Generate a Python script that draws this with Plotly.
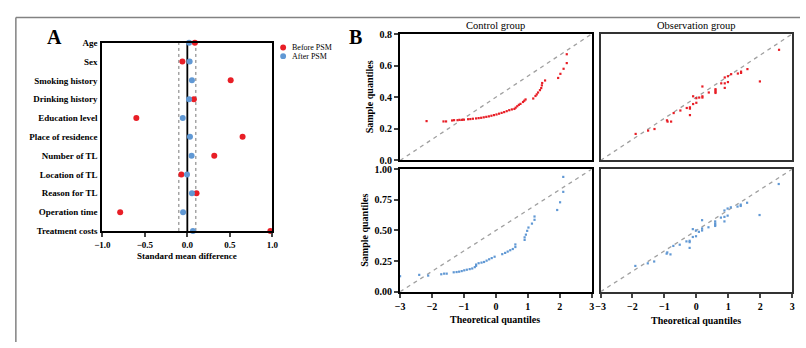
import plotly.graph_objects as go

W, H = 806, 348
def px(x): return x / W
def py(y): return 1 - y / H

# ---------------- Data ----------------
variables = ["Age", "Sex", "Smoking history", "Drinking history", "Education level",
             "Place of residence", "Number of TL", "Location of TL", "Reason for TL",
             "Operation time", "Treatment costs"]
smd_before = [0.089, -0.058, 0.51, 0.077, -0.60, 0.65, 0.317, -0.07, 0.108, -0.79, 0.977]
smd_after = [0.02, 0.027, 0.054, 0.02, -0.054, 0.031, 0.05, -0.004, 0.054, -0.05, 0.066]
smd_ticks = [-1.0, -0.5, 0.0, 0.5, 1.0]

ctrl_before_x = [-2.17, -1.64, -1.56, -1.37, -1.31, -1.20, -1.14, -1.06, -1.00, -0.87, -0.80, -0.72,
                 -0.62, -0.54, -0.46, -0.38, -0.30, -0.22, -0.14, -0.06, 0.02, 0.10, 0.18, 0.26,
                 0.34, 0.42, 0.50, 0.58, 0.62, 0.67, 0.72, 0.77, 0.85, 0.89, 0.93, 1.17, 1.24,
                 1.28, 1.32, 1.38, 1.42, 1.44, 1.45, 1.54, 1.95, 2.02, 2.12, 2.22, 2.22]
ctrl_before_y = [0.249, 0.247, 0.247, 0.253, 0.255, 0.255, 0.257, 0.257, 0.258, 0.261, 0.262, 0.264,
                 0.266, 0.268, 0.270, 0.273, 0.276, 0.279, 0.283, 0.287, 0.291, 0.296, 0.301, 0.306,
                 0.312, 0.318, 0.323, 0.326, 0.334, 0.343, 0.352, 0.358, 0.370, 0.378, 0.386, 0.392,
                 0.408, 0.418, 0.430, 0.445, 0.458, 0.475, 0.490, 0.506, 0.522, 0.548, 0.580, 0.616,
                 0.672]

obs_before_x = [-1.90, -1.51, -1.31, -0.92, -0.90, -0.79, -0.71, -0.50, -0.30, -0.20, -0.20, -0.20,
                -0.10, 0.00, -0.10, 0.00, 0.09, 0.19, 0.19, 0.19, 0.39, 0.60, 0.60, 0.60, 0.60,
                0.78, 0.89, 0.89, 0.99, 0.89, 0.99, 1.09, 1.30, 1.40, 1.40, 1.60, 1.99, 2.59]
obs_before_y = [0.168, 0.189, 0.199, 0.254, 0.246, 0.246, 0.300, 0.316, 0.332, 0.336, 0.328, 0.287,
                0.357, 0.365, 0.406, 0.394, 0.398, 0.406, 0.398, 0.468, 0.430, 0.451, 0.443, 0.435,
                0.427, 0.488, 0.488, 0.459, 0.496, 0.525, 0.533, 0.546, 0.550, 0.562, 0.554, 0.578,
                0.500, 0.700]

ctrl_after_x = [-3.00, -2.40, -2.12, -1.71, -1.62, -1.54, -1.32, -1.23, -1.15, -1.07, -0.99, -0.91,
                -0.82, -0.74, -0.66, -0.62, -0.62, -0.54, -0.45, -0.37, -0.29, -0.21, -0.13, -0.04,
                0.20, 0.29, 0.37, 0.45, 0.53, 0.61, 0.61, 0.90, 0.90, 0.94, 0.98, 1.02, 1.13, 1.21,
                1.21, 1.92, 2.01, 2.11, 2.11]
ctrl_after_y = [0.127, 0.138, 0.132, 0.143, 0.148, 0.148, 0.159, 0.161, 0.164, 0.169, 0.175, 0.180,
                0.185, 0.190, 0.201, 0.212, 0.222, 0.233, 0.238, 0.243, 0.254, 0.265, 0.275, 0.286,
                0.307, 0.317, 0.328, 0.339, 0.349, 0.365, 0.386, 0.423, 0.444, 0.466, 0.497, 0.524,
                0.556, 0.587, 0.614, 0.667, 0.730, 0.815, 0.937]

obs_after_x = [-1.91, -1.52, -1.32, -0.93, -0.91, -0.81, -0.72, -0.52, -0.31, -0.21, -0.21, -0.21,
               -0.11, -0.01, -0.11, -0.01, 0.08, 0.18, 0.18, 0.18, 0.38, 0.59, 0.59, 0.59, 0.59,
               0.77, 0.88, 0.88, 0.98, 0.88, 0.98, 1.08, 1.29, 1.39, 1.39, 1.59, 1.98, 2.58]
obs_after_y = [0.211, 0.232, 0.247, 0.311, 0.321, 0.305, 0.374, 0.384, 0.411, 0.416, 0.405, 0.358,
               0.447, 0.453, 0.511, 0.500, 0.489, 0.500, 0.516, 0.584, 0.526, 0.574, 0.558, 0.547,
               0.537, 0.605, 0.611, 0.574, 0.621, 0.663, 0.679, 0.689, 0.695, 0.711, 0.700, 0.726,
               0.626, 0.879]

qq_x_ticks = [-3, -2, -1, 0, 1, 2, 3]
qq_top_ticks = [0.0, 0.2, 0.4, 0.6, 0.8]
qq_bot_ticks = [0.0, 0.25, 0.5, 0.75, 1.0]
qq_top_max, qq_bot_max = 0.8, 1.0

RED = "rgb(232,30,38)"
BLUE = "rgb(96,152,212)"
FONT = "Liberation Serif"

fig = go.Figure()

# ---------------- Panel A ----------------
fig.add_trace(go.Scatter(x=smd_before, y=variables, mode="markers", name="Before PSM",
                         marker=dict(color=RED, size=6), cliponaxis=False,
                         xaxis="x", yaxis="y", showlegend=False))
fig.add_trace(go.Scatter(x=smd_after, y=variables, mode="markers", name="After PSM",
                         marker=dict(color=BLUE, size=6), cliponaxis=False,
                         xaxis="x", yaxis="y", showlegend=False))

# ---------------- Panel B ----------------
def qq(xs, ys, color, ax, ymax):
    fig.add_trace(go.Scatter(x=[-3, 3], y=[0, ymax], mode="lines",
                             line=dict(color="rgb(160,160,160)", width=1.3, dash="4px,4px"),
                             xaxis="x" + ax, yaxis="y" + ax, showlegend=False, hoverinfo="skip"))
    fig.add_trace(go.Scatter(x=xs, y=ys, mode="markers",
                             marker=dict(color=color, size=2.2, symbol="square"),
                             cliponaxis=False,
                             xaxis="x" + ax, yaxis="y" + ax, showlegend=False))

qq(ctrl_before_x, ctrl_before_y, RED, "2", qq_top_max)
qq(obs_before_x, obs_before_y, RED, "3", qq_top_max)
qq(ctrl_after_x, ctrl_after_y, BLUE, "4", qq_bot_max)
qq(obs_after_x, obs_after_y, BLUE, "5", qq_bot_max)

bold9 = dict(family=FONT, size=9, color="black", weight="bold")
bold10 = dict(family=FONT, size=10, color="black", weight="bold")

frame = dict(showline=True, linecolor="black", linewidth=2, mirror=True,
             showgrid=False, zeroline=False)
frame_r = dict(showline=True, linecolor="rgb(50,50,50)", linewidth=2, mirror=True,
               showgrid=False, zeroline=False)

top_dom = [py(160), py(29)]
bot_dom = [py(296), py(169)]
left_dom = [px(399), px(594)]
right_dom = [px(603), px(798)]

fig.update_layout(
    width=W, height=H, margin=dict(l=0, r=0, t=0, b=0),
    paper_bgcolor="white", plot_bgcolor="white",
    font=dict(family=FONT, color="black"),
    showlegend=False,
    xaxis=dict(domain=[px(96), px(269)], range=[-1, 1], tickvals=smd_ticks,
               tickformat=".1f", ticks="outside", ticklen=4, tickwidth=1.5,
               tickfont=bold9, anchor="y", **frame),
    yaxis=dict(domain=[py(233), py(38)], type="category", categoryorder="array",
               categoryarray=variables, range=[len(variables) - 1, 0],
               ticks="", ticklabelstandoff=1, tickfont=bold9, anchor="x", **frame),
    xaxis2=dict(domain=left_dom, range=[-3, 3], showticklabels=False, ticks="",
                anchor="y2", **frame),
    yaxis2=dict(domain=top_dom, range=[0, qq_top_max], tickvals=qq_top_ticks, tickformat=".1f",
                ticks="outside", ticklen=4, tickwidth=1.5, tickfont=bold10, anchor="x2", **frame),
    xaxis3=dict(domain=right_dom, range=[-3, 3], showticklabels=False, ticks="",
                anchor="y3", **frame_r),
    yaxis3=dict(domain=top_dom, range=[0, qq_top_max], showticklabels=False, ticks="",
                anchor="x3", **frame_r),
    xaxis4=dict(domain=left_dom, range=[-3, 3], tickvals=qq_x_ticks, ticks="outside",
                ticklen=4, tickwidth=1.5, tickfont=bold10, anchor="y4", **frame),
    yaxis4=dict(domain=bot_dom, range=[0, qq_bot_max], tickvals=qq_bot_ticks, tickformat=".2f",
                ticks="outside", ticklen=4, tickwidth=1.5, tickfont=bold10, anchor="x4", **frame),
    xaxis5=dict(domain=right_dom, range=[-3, 3], tickvals=qq_x_ticks, ticks="outside",
                ticklen=4, tickwidth=1.5, tickfont=bold10, anchor="y5", **frame_r),
    yaxis5=dict(domain=bot_dom, range=[0, qq_bot_max], showticklabels=False, ticks="",
                anchor="x5", **frame_r),
)

shapes = [
    # outer frame
    dict(type="line", xref="paper", yref="paper", x0=px(8), x1=1, y0=py(12), y1=py(12),
         line=dict(color="rgb(130,130,130)", width=1.5)),
    dict(type="line", xref="paper", yref="paper", x0=px(8), x1=px(8), y0=0, y1=py(12),
         line=dict(color="rgb(130,130,130)", width=1.5)),
    # reference lines in panel A
    dict(type="line", xref="x", yref="y domain", x0=0, x1=0, y0=0, y1=1,
         line=dict(color="black", width=1.8), layer="below"),
    dict(type="line", xref="x", yref="y domain", x0=-0.1, x1=-0.1, y0=0, y1=1,
         line=dict(color="rgb(120,120,120)", width=1, dash="dot"), layer="below"),
    dict(type="line", xref="x", yref="y domain", x0=0.1, x1=0.1, y0=0, y1=1,
         line=dict(color="rgb(120,120,120)", width=1, dash="dot"), layer="below"),
    # legend markers
    dict(type="circle", xref="paper", yref="paper", x0=px(277), x1=px(283),
         y0=py(46), y1=py(40), fillcolor=RED, line=dict(width=0)),
    dict(type="circle", xref="paper", yref="paper", x0=px(277), x1=px(283),
         y0=py(55), y1=py(49), fillcolor=BLUE, line=dict(width=0)),
]
fig.update_layout(shapes=shapes)

ann = [
    dict(text="A", x=px(47), y=py(32), font=dict(family=FONT, size=20, weight="bold")),
    dict(text="B", x=px(354), y=py(32), font=dict(family=FONT, size=20, weight="bold")),
    dict(text="Before PSM", x=px(287), y=py(43), xanchor="left",
         font=dict(family=FONT, size=8)),
    dict(text="After PSM", x=px(287), y=py(52), xanchor="left",
         font=dict(family=FONT, size=8)),
    dict(text="Standard mean difference", x=px(182.5), y=py(259), font=bold9),
    dict(text="Control group", x=px(496), y=py(20), font=dict(family=FONT, size=10.5)),
    dict(text="Observation group", x=px(700), y=py(20), font=dict(family=FONT, size=10.5)),
    dict(text="Sample quantiles", x=px(368), y=py(94), textangle=-90, font=bold10),
    dict(text="Sample quantiles", x=px(362), y=py(232), textangle=-90, font=bold10),
    dict(text="Theoretical quantiles", x=px(496), y=py(325), font=bold10),
    dict(text="Theoretical quantiles", x=px(700), y=py(326), font=bold10),
]
for a in ann:
    a.update(xref="paper", yref="paper", showarrow=False)
    a.setdefault("xanchor", "center")
    a.setdefault("yanchor", "middle")
fig.update_layout(annotations=ann)

fig.write_html("out.html",
               config={"displayModeBar": False},
               post_script="document.body.style.margin='0';document.body.style.overflow='hidden';")
